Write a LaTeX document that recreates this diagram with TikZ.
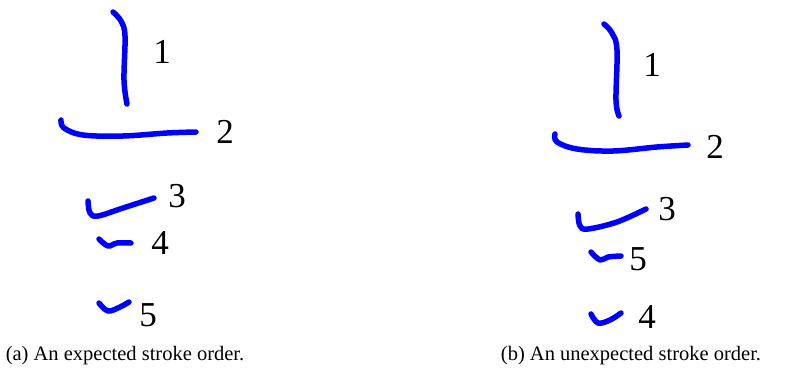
\documentclass[tikz,border=0pt]{standalone}
\usepackage{fontspec}
\setmainfont{Liberation Serif}
\usepackage{xcolor}
\definecolor{inkblue}{RGB}{0,0,255}
\usetikzlibrary{positioning}

\tikzset{
  stroke/.style={inkblue, line width=5.5pt, line cap=round, line join=round},
  num/.style={font=\fontsize{35}{35}\selectfont, inner sep=0pt},
  caption/.style={font=\fontsize{20.5}{24}\selectfont, inner sep=0pt}
}

\begin{document}
\begin{tikzpicture}[x=1pt, y=-1pt]
  \useasboundingbox (0,0) rectangle (793,375);

  % --- (a) expected order ---
  \draw[stroke] plot[smooth, tension=0.6] coordinates {(113,12) (121,21) (125,36) (124,80) (127,104)};
  \draw[stroke] plot[smooth, tension=0.6] coordinates {(61,120) (64,128) (83,135) (123,136) (167,133) (196,132)};
  \draw[stroke] plot[smooth, tension=0.6] coordinates {(88,201) (90,213) (98,216) (123,208) (154,198)};
  \draw[stroke] plot[smooth, tension=0.6] coordinates {(99,239) (108,246) (117,243) (131,243)};
  \draw[stroke] plot[smooth, tension=0.6] coordinates {(99,303) (108,311) (120,307) (129,302)};
  \node[num] (a1) at (162,52) {1};
  \node[num] (a2) at (225,132) {2};
  \node[num] (a3) at (177,196) {3};
  \node[num] (a4) at (160,243) {4};
  \node[num] (a5) at (148,315) {5};
  \node[caption] (capa) at (125,356) {(a) An expected stroke order.};

  % --- (b) unexpected order ---
  \draw[stroke] plot[smooth, tension=0.6] coordinates {(604,24) (612,33) (617,50) (616,100) (619,116)};
  \draw[stroke] plot[smooth, tension=0.6] coordinates {(555,134) (557,142) (577,149) (613,151) (657,147) (688,145)};
  \draw[stroke] plot[smooth, tension=0.6] coordinates {(578,214) (580,226) (588,229) (617,222) (646,209)};
  \draw[stroke] plot[smooth, tension=0.6] coordinates {(591,252) (600,260) (608,257) (621,256)};
  \draw[stroke] plot[smooth, tension=0.6] coordinates {(591,314) (598,323) (610,320) (621,313)};
  \node[num] (b1) at (652,65) {1};
  \node[num] (b2) at (715,147) {2};
  \node[num] (b3) at (667,209) {3};
  \node[num] (b5) at (638,259) {5};
  \node[num] (b4) at (647,317) {4};
  \node[caption] (capb) at (631,356) {(b) An unexpected stroke order.};
\end{tikzpicture}
\end{document}
